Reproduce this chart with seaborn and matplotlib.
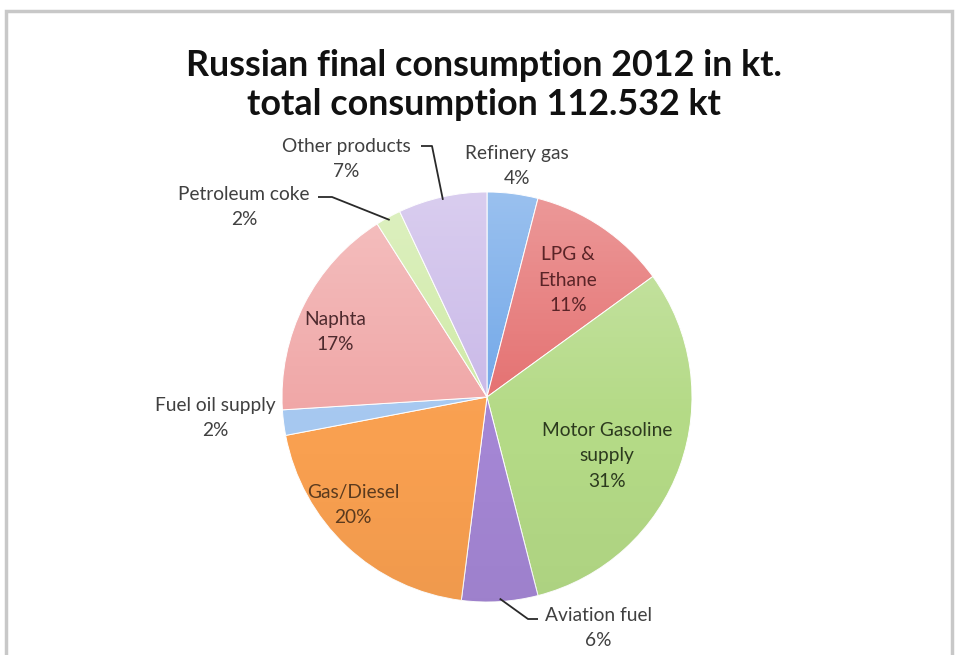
import numpy as np
import matplotlib
matplotlib.use("Agg")
import matplotlib.pyplot as plt
from matplotlib.patches import Circle, Rectangle
import seaborn as sns

# Russian final consumption of oil products, 2012 (share of total, %)
products = ["Refinery gas", "LPG &\nEthane", "Motor Gasoline\nsupply", "Aviation fuel",
            "Gas/Diesel", "Fuel oil supply", "Naphta", "Petroleum coke", "Other products"]
shares = [4, 11, 31, 6, 20, 2, 17, 2, 7]
title_lines = ["Russian final consumption 2012 in kt.", "total consumption 112.532 kt"]

slice_colors = ["#6fa6e8", "#e46e6e", "#b4da86", "#a486d4", "#f9a050",
                "#a6c8f0", "#f0a6a6", "#cfeaa6", "#c9b8e8"]
text_colors = ["#404040", "#5a2427", "#2c3a1e", "#404040", "#5a3a1e",
               "#404040", "#4e2a2e", "#404040", "#404040"]

W, H = 955, 655
# label anchor points in pixel space (x, y from top)
label_pos = [(517, 166), (568, 280), (607, 456), (598, 628), (353, 505),
             (215, 418), (335, 332), (244, 207), (346, 159)]
# leader line elbows for the labels that sit outside the pie
leaders = {3: [(538, 619), (528, 619)],
           7: [(318, 197), (332, 197)],
           8: [(421, 146), (432, 146)]}

sns.set_theme(style="white")
plt.rcParams["font.family"] = ["Lato", "DejaVu Sans"]

fig = plt.figure(figsize=(W / 100, H / 100), dpi=100)
fig.patch.set_facecolor("white")
ax = fig.add_axes([0, 0, 1, 1])

cx, cy, R = 487, H - 397, 205

wedges, _ = ax.pie(shares, colors=slice_colors, startangle=90, counterclock=False,
                   center=(cx, cy), radius=R, frame=True,
                   wedgeprops=dict(edgecolor="white", linewidth=0.7))

# vertical light-to-dark shading over the pie
n = 256
t = np.linspace(0, 1, n)[:, None]
grad = np.zeros((n, 1, 4))
top = np.clip(1 - 1.8 * t, 0, 1)
bot = np.clip(2 * t - 1.2, 0, 1)
grad[..., 0:3] = np.where(t < 0.58, 1.0, 0.0)[..., None]
grad[..., 3] = 0.30 * top + 0.05 * bot
img = ax.imshow(grad, extent=(cx - R, cx + R, cy - R, cy + R), aspect="auto",
                origin="upper", zorder=3, interpolation="bilinear")
img.set_clip_path(Circle((cx, cy), R, transform=ax.transData))

ax.set_xlim(0, W)
ax.set_ylim(0, H)
ax.set_aspect("equal")
ax.axis("off")

# labels
total = sum(shares)
for i, (name, v) in enumerate(zip(products, shares)):
    x, y = label_pos[i]
    ax.text(x, H - y, f"{name}\n{round(100 * v / total)}%", ha="center", va="center",
            fontsize=13.8, color=text_colors[i], linespacing=1.62, zorder=5)

# leader lines from outside labels to the middle of their slice's rim
for i, elbows in leaders.items():
    w = wedges[i]
    mid = np.deg2rad((w.theta1 + w.theta2) / 2)
    ex, ey = cx + (R - 3) * np.cos(mid), cy + (R - 3) * np.sin(mid)
    xs = [p[0] for p in elbows] + [ex]
    ys = [H - p[1] for p in elbows] + [ey]
    ax.plot(xs, ys, color="#2a2a2a", lw=1.3, zorder=6, solid_capstyle="butt")

# title
fig.text(484 / W, 1 - 85 / H, "\n".join(title_lines), ha="center", va="center",
         fontsize=25.8, fontweight="bold", color="#111111", linespacing=1.22)

# outer frame of the chart area
fig.patches.append(Rectangle((6 / W, -0.05), (952 - 6) / W, 1.05 - 11.5 / H,
                             transform=fig.transFigure, fill=False,
                             edgecolor="#c8c8c8", linewidth=2.5))

fig.savefig("out.png", dpi=100, facecolor="white")
